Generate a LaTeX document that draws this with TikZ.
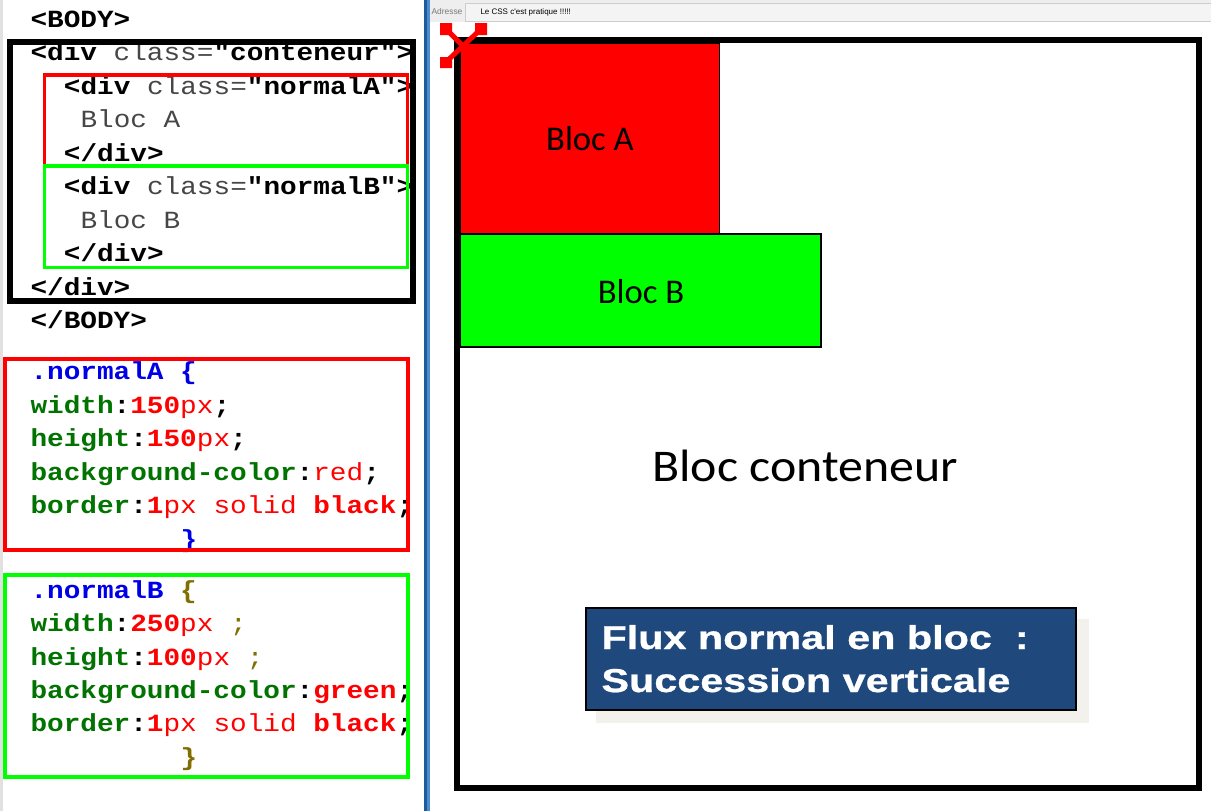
\documentclass[tikz,border=0pt]{standalone}
\usepackage{fontspec}
\newfontfamily\codefont[Ligatures=TeXOff,FakeStretch=1.124]{Liberation Mono}
\newfontfamily\calfont{Carlito}
\newfontfamily\calwide[FakeStretch=1.1]{Carlito}
\newfontfamily\fluxfont[FakeStretch=1.25,FakeBold=0.8]{Liberation Sans}
\newfontfamily\barfont{Liberation Sans}

\newcommand{\codegray}[1]{\textcolor[RGB]{70,70,70}{#1}}
\newcommand{\cssprop}[1]{\textcolor[RGB]{0,115,0}{\textbf{#1}}}
\newcommand{\cssnum}[1]{\textcolor[RGB]{255,0,0}{\textbf{#1}}}
\newcommand{\cssval}[1]{\textcolor[RGB]{255,0,0}{#1}}
\newcommand{\cssname}[1]{\textcolor[RGB]{0,0,230}{\textbf{#1}}}
\newcommand{\cssolive}[1]{\textcolor[RGB]{128,110,0}{#1}}

\tikzset{every picture/.style={line width=0.75pt}}
\tikzset{
  code/.style={anchor=base west, inner sep=0pt, font=\codefont\fontsize{18.5}{18.5}\selectfont},
  blocktext/.style={inner sep=0pt, font=\calfont\fontsize{26}{26}\selectfont},
  fluxtext/.style={anchor=base west, inner sep=0pt, text={rgb,255:red,255;green,255;blue,255}, font=\fluxfont\bfseries\fontsize{24.8}{24.8}\selectfont},
  frameblack/.style={draw=black, line width=4.5pt},
  framered/.style={draw={rgb,255:red,255;green,0;blue,0}, line width=2.5pt},
  framegreen/.style={draw={rgb,255:red,0;green,255;blue,0}, line width=2.5pt},
}

\begin{document}
\begin{tikzpicture}[x=0.75pt,y=0.75pt,yscale=-1,xscale=1]
	\useasboundingbox (0,0) rectangle (1211,811);
	\fill [white] (0,0) rectangle (1211,811);

	%Shape: Rectangle [left strip]
	\fill [fill={rgb, 255:red, 225; green, 225; blue, 225 }] (0,0) rectangle (3,811);
	%Shape: Rectangle [divider]
	\fill [fill={rgb, 255:red, 30; green, 90; blue, 160 }] (424,0) rectangle (427,811);
	\fill [fill={rgb, 255:red, 75; green, 140; blue, 205 }] (427,0) rectangle (430,811);

	%Shape: Rectangle [address bar]
	\fill [fill={rgb, 255:red, 238; green, 238; blue, 238 }] (430,0) rectangle (1211,22);
	\draw [draw={rgb, 255:red, 205; green, 205; blue, 205 }, fill={rgb, 255:red, 244; green, 244; blue, 244 }] (465,3) rectangle (1212,21);
	% Text Node
	\draw (447,11) node [inner sep=0pt, text={rgb,255:red,120;green,120;blue,120}, font=\barfont\fontsize{6.3}{6.3}\selectfont] (adresse) {Adresse};
	% Text Node
	\draw (480,12) node [anchor=west, inner sep=0pt, font=\barfont\fontsize{6}{6}\selectfont] (titre) {Le CSS c'est pratique !!!!!};

	%Shape: Rectangle [Bloc A]
	\draw [fill={rgb, 255:red, 255; green, 0; blue, 0 }] (460,43) rectangle (719,234);
	%Shape: Rectangle [Bloc B]
	\draw [line width=1.1pt, fill={rgb, 255:red, 0; green, 255; blue, 0 }] (460,234) rectangle (821,347);
	%Shape: Rectangle [conteneur]
	\draw [frameblack] (457,40) rectangle (1199,788);

	% Text Node
	\draw (590,139) node [blocktext] (blocA) {Bloc A};
	% Text Node
	\draw (641,292) node [blocktext] (blocB) {Bloc B};
	% Text Node
	\draw (805,466) node [blocktext, font=\calwide\fontsize{34}{34}\selectfont] (conteneur) {Bloc conteneur};

	%Shape: Rectangle [shadow]
	\fill [fill={rgb, 255:red, 243; green, 241; blue, 236 }] (596,619) rectangle (1089,723);
	%Shape: Rectangle [flux]
	\draw [line width=1.5pt, fill={rgb, 255:red, 31; green, 73; blue, 125 }] (586,608) rectangle (1076,710);
	% Text Node
	\draw (601,649) node [fluxtext] (fluxA) {Flux normal en bloc \ :};
	% Text Node
	\draw (601,692) node [fluxtext] (fluxB) {Succession verticale};

	%Shape: resize handle
	\draw [line width=3.75pt, draw={rgb, 255:red, 255; green, 0; blue, 0 }] (446,29) -- (470,53) (481,29) -- (446,62);
	\fill [fill={rgb, 255:red, 255; green, 0; blue, 0 }] (440,23) rectangle (452,35) (475,23) rectangle (487,35) (440,57) rectangle (452,68);

	% Text Node
	\draw (30,27) node [code] (bodyopen) {\textbf{<BODY>}};
	% Text Node
	\draw (30,60) node [code] (divcont) {\textbf{<div} \codegray{class=}\textbf{"conteneur">}};
	% Text Node
	\draw (63.4,94) node [code] (divA) {\textbf{<div} \codegray{class=}\textbf{"normalA">}};
	% Text Node
	\draw (80,127) node [code] (txtA) {\codegray{Bloc A}};
	% Text Node
	\draw (63.4,161) node [code] (endA) {\textbf{</div>}};
	% Text Node
	\draw (63.4,194) node [code] (divB) {\textbf{<div} \codegray{class=}\textbf{"normalB">}};
	% Text Node
	\draw (80,228) node [code] (txtB) {\codegray{Bloc B}};
	% Text Node
	\draw (63.4,261) node [code] (endB) {\textbf{</div>}};
	% Text Node
	\draw (30,295) node [code] (endcont) {\textbf{</div>}};
	% Text Node
	\draw (30,328.5) node [code] (bodyclose) {\textbf{</BODY>}};

	%Shape: Rectangle [html frames]
	\draw [framered] (44.3,75) rectangle (407.7,166);
	\draw [framegreen] (44.3,166) rectangle (407.7,267.7);
	\draw [frameblack] (10,41.5) rectangle (413,301);

	% Text Node
	\draw (30,379) node [code] (nameA) {\cssname{.normalA} \cssname{\{}};
	% Text Node
	\draw (30,413) node [code] (widthA) {\cssprop{width}\textbf{:}\cssnum{150}\cssval{px}\textbf{;}};
	% Text Node
	\draw (30,446) node [code] (heightA) {\cssprop{height}\textbf{:}\cssnum{150}\cssval{px}\textbf{;}};
	% Text Node
	\draw (30,480) node [code] (bgA) {\cssprop{background-color}\textbf{:}\cssval{red}\textbf{;}};
	% Text Node
	\draw (30,513) node [code] (borderA) {\cssprop{border}\textbf{:}\cssnum{1}\cssval{px solid }\cssnum{black}\textbf{;}};
	% Text Node
	\draw (180,547) node [code] (closeA) {\cssname{\}}};

	% Text Node
	\draw (30,598) node [code] (nameB) {\cssname{.normalB} \cssolive{\textbf{\{}}};
	% Text Node
	\draw (30,631) node [code] (widthB) {\cssprop{width}\textbf{:}\cssnum{250}\cssval{px} \cssolive{;}};
	% Text Node
	\draw (30,665) node [code] (heightB) {\cssprop{height}\textbf{:}\cssnum{100}\cssval{px} \cssolive{;}};
	% Text Node
	\draw (30,698) node [code] (bgB) {\cssprop{background-color}\textbf{:}\cssnum{green}\textbf{;}};
	% Text Node
	\draw (30,731) node [code] (borderB) {\cssprop{border}\textbf{:}\cssnum{1}\cssval{px solid }\cssnum{black}\textbf{;}};
	% Text Node
	\draw (180,765) node [code] (closeB) {\cssolive{\textbf{\}}}};

	%Shape: Rectangle [css frames]
	\draw [framered, line width=3pt] (5.3,358.7) rectangle (407.7,550.3);
	\draw [framegreen, line width=3pt] (5.3,574.7) rectangle (407.7,777);

\end{tikzpicture}
\end{document}
